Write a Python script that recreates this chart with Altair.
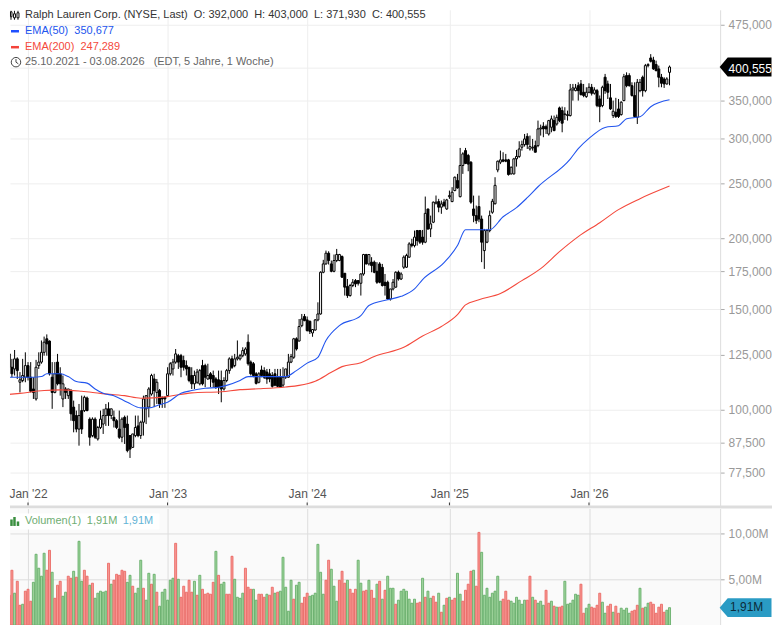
import altair as alt
import pandas as pd

# weekly candles: (open, high, low, close)
ohlc_a = [(127,130.9,117.1,122),(124.5,131.2,121.2,127.8),(126.1,130.5,117.1,123.6),(125.3,127.8,114,118.7),(118.7,122.8,114,115.6),
(117.9,127.3,114.8,122.8),(122.8,123.6,113.2,117.1),(111.7,116.4,107.2,112.8),(112.5,122.8,111.7,114.8),(114,126.1,111.7,119.5),
(119.5,121.2,112.5,114),(114,121.2,107.2,107.7),(108.7,114,104.4,107.2),(104.4,122.3,103.7,118.7),(119.5,126.1,117.9,121.2),
(121.2,132.3,120.4,126.1),(126.1,134.4,124.4,131.4),(133.2,135.6,124.4,130.5),(132,132.3,114.8,115.6),(114,121.2,100.3,107.2),
(107.2,121.2,106.8,115.6),(121.2,125.3,110.3,111),(115.6,118.7,105.8,111),(104.4,114.8,101,111),(108.7,109.5,104.4,107.2),
(105.8,108.7,104.4,108.7),(108,108.7,95.6,98.3),(101,103.7,91.2,95.6),(97.6,99.6,91.2,92.4),(92.4,102.3,86.4,97.6),
(99.6,105.8,90.6,92.4),(99.6,105.8,99,105.1),(104.8,105.4,99.3,99.6),(96.2,96.9,86.4,89.4),(90,96.9,89.4,96.2),
(96.2,96.9,88.8,89.4),(88.8,93.6,88.2,93),(93,99.6,92.4,96.2),(94.3,100.3,90.6,97.6),(97.6,102.3,93.6,100.3),
(100.3,103,93.6,97.6),(97.6,100.3,96.2,100.3),(96.9,99.6,93,95.6),(95.6,96.2,92.4,93),(92.4,99.6,88.8,89.4),
(89.4,96.9,87.6,96.2),(96.9,97.6,87,93),(94.3,97.6,84.1,84.7),(90,90,82.2,85.2),(85.8,90.6,85.6,90.6)]
ohlc_b = [(90,97.6,89.4,93),(93.6,97.6,89.4,90),(90,95.6,88.8,95),(95,105.8,90,104.4),(100.3,105.8,94.3,105.8),
(101,109.5,96.9,108.7),(106.5,115.6,105.8,114.8),(113.2,115.6,101,108),(107.2,113.2,102.3,111.7),(108,108.7,100.7,102.3),
(105.1,105.4,100.7,104.4),(105.1,105.4,100.7,104.4),(105.8,118.7,105.4,115.6),(115.6,121.2,114.8,120.4),(117.9,122.8,114.8,121.2),
(121.2,127.8,120.4,125.3),(124.4,125.3,117.9,121.2),(124.4,125.3,114,118.7),(122,124.4,117.1,118.7),(119.5,122,114.8,117.9),
(118.7,118.7,111.7,112.5),(114.8,118.7,108.7,111),(111,117.1,108.7,114.8),(111.7,117.9,111,116.4),(111,117.9,110.3,117.1),
(119.5,122.3,110.3,111),(119.5,120.4,109.5,114),(113.2,120.4,112.8,114.8),(115.6,116.4,109.5,113.2),(114.8,117.1,109.5,111.7),
(113.2,114,108.7,109.5),(112.8,117.1,106.5,109.5),(112.5,117.1,103,108.7),(108.7,114,108,112.5),(112.5,117.9,111.7,117.1),
(117.1,123.6,115.6,122.8),(122.8,124.4,117.9,118.7),(119.5,125.3,118.7,122.8),(122.8,132.3,122,123.6),(122.8,125.3,122,124.4),
(124.4,128.7,123.6,127),(125.3,128.7,124.4,127.8),(131.4,135.6,119.5,120.4),(121.2,122,114.8,115.6),(120.4,121.2,114,114.8),
(115.6,116.4,110.7,111.2),(111.7,116.4,111.2,115.6),(117.4,119.5,114,114.8),(117.1,118.7,113.2,114),(116.4,117.9,111,113.2)]
ohlc_c = [(115.6,117.9,111.7,113.2),(114.8,116.4,109.3,109.9),(115.6,117.9,109.9,110.4),(114,117.9,109.6,109.9),(114,117.9,109.3,109.6),
(110.4,118.7,109.6,114),(114,117.9,113.2,117.9),(114,125.3,113.7,121.2),(121.2,125.3,120.7,123.9),(123.6,133.7,122.8,133.2),
(133.2,134,127,127.8),(132,144.3,131.8,140),(140.5,147.3,139.6,144.3),(145.8,147.3,143,143.4),(143.8,145.8,137.2,137.7),
(143,143.4,135.8,137.3),(136.4,138.6,134.3,138.3),(138,144.3,137.7,143.8),(143.8,154.4,143,147.3),(147.3,175.1,146.9,174.4),
(174.4,183.4,173.7,180.4),(180.4,190.4,179.9,188.4),(188.4,189.9,180,182.9),(180.4,182.9,174.4,175.1),(175.1,187.4,174.4,182.9),
(182.9,191.7,181.7,187.4),(182.9,187.9,182.4,187.4),(185.9,186.7,170.4,171),(173.7,173.7,158.7,164.2),(164.6,169.7,157.2,158.7),
(158.7,166.4,158,165.3),(165.3,169.7,164.2,167.5),(168.6,169.7,164.2,166.4),(168.6,169,165.3,166.8),(166.8,173.7,158.7,173.2),
(173.2,187.9,172,187.4),(187.4,187.9,180,180.4),(180.4,187.4,179.2,187.4),(181.7,185.4,174.4,179.2),(181.7,182.9,173.7,174.4),
(175.1,181.7,166.4,167.5),(180.4,181.7,166.8,167.5),(177.9,180.4,164.6,165.3),(167.5,173.2,158.7,165.3),(167.5,168.6,156,156.5),
(156.5,163,155.5,163),(163,169.7,162,167.5),(164.2,175.1,163.8,174.4),(174.4,175.6,168.6,169.7),(169.7,174.4,169,173.2)]
ohlc_d = [(178,186.7,176.8,185.4),(178,188,177.5,186.7),(185.4,197,184.9,195.6),(195.6,199.7,192.9,194.3),(194.3,206.5,192.9,201.1),
(206.5,207,194.3,198.3),(206.5,207,195.6,197),(201.1,207,195,197),(197,237,196.2,221.4),(225.4,225.4,207,207.9),
(207.9,219.4,201.1,212.2),(213.6,232.2,212.8,231.7),(230.7,238,229.5,231.7),(232.2,234.8,222.4,227),(227,233.2,221,230),
(231.7,234.8,227,228.5),(225.4,234.8,224.5,233.8),(236.9,242.8,234.8,237.9),(232.2,246.2,231.7,241.2),(242.8,257,242.2,256.3),
(252.9,259.8,244.7,245.4),(236.9,288.6,236.2,268.8),(268.8,283.6,259.8,281.7),(285.5,288.6,270.3,271),(279.9,281.7,262.6,270.3),
(272.4,273.5,230.2,231.7),(225.4,237.9,213.6,219.4),(219.4,228.5,212.2,215),(227.6,237.9,213.6,216.4),(216.4,219.4,181.7,197),
(190.4,207.9,176.8,206.5),(197,207.9,196.2,206.5),(206.5,223.9,205.1,219.4),(222.4,234.8,221,232.5),(230.2,256.3,229.5,248),
(264,274.2,261.5,273.5),(272.4,285.5,270.3,275),(275,283.6,272.4,273.5),(275,281.7,272.4,273.5),(275,276.1,258,259.1),
(259.8,267.6,259.1,266.9),(259.8,277.2,259.1,276.1),(276.1,286.3,267.6,278.8),(278.8,296.5,277.2,287.4),(289.4,297.3,285.5,292.5),
(292.5,305.4,290.2,299.3),(302.4,306.3,287.4,292.5),(287.4,303.4,285.5,290.1),(288.6,299.3,285.5,289.4),(291.3,297.3,283.6,283.6)]
ohlc_e = [(291.3,322.4,289.4,311.7),(311.7,317.2,303.4,312.9),(315.1,320.3,301.4,311.7),(314.5,317.2,305.4,311.7),(305.4,323.3,303.4,322.4),
(313.8,329,307.5,324.6),(322.4,329,308.8,309.6),(318,330.3,315.9,326.7),(339.4,341.2,320.3,322.4),(335.7,341.2,307.5,319),
(330.3,340.3,323.3,331.2),(329,335.7,322.4,330.3),(329,374,327.8,365),(365,374,349.6,368),(364,374,363,368),
(371.4,376.5,349.6,364),(374,380,356.9,358.2),(361.6,374,354.4,356.9),(355.3,369,353.5,361.6),(361.6,375,360.1,369),
(369,374,356.9,360.1),(360.1,369,358.2,365),(364,366.5,340.3,342.6),(351.9,356.9,320.3,341.2),(342.6,371.4,340.3,369),
(384.3,389.5,359.3,364),(374,379,351.9,361.6),(353.5,374,336.6,338),(329,349.6,325.8,334.8),(333.5,353.5,325.8,327.8),
(338,351.9,325.8,327.8),(330.3,348.7,329,347.3),(349.6,389.5,348.7,385.1),(386.9,392,369,371.4),(386.9,390.5,370,371.4),
(371.4,376.5,355.3,356.9),(356.9,376.5,326.7,327.8),(326.7,381.6,318,376.5),(364,381.6,361.6,376.5),(384.3,386.9,355.3,364),
(364,405.6,361.6,402.8),(402.8,406.7,400,404.5),(415.5,422,408,410),(412,417.5,395.8,397.5),(404.5,411,393.6,394.7),
(397.5,402.8,369,384.3),(384.3,389.5,369,375),(381.6,384.3,368,374),(374,384.3,373,381.6),(392,403,371.93,400.555)]

# weekly volume in millions, with the colour of each bar
volumes = [8.26,3.91,3.7,3.26,5.98,3.48,4.78,2.17,2.28,3.7,
3.91,2.61,4.67,7.72,6.2,5.33,7.83,5.98,8.15,5.76,
2.93,4.35,4.78,3.15,3.59,5.33,5.11,5.87,5.22,9.13,
4.78,5.98,5.33,4.35,4.57,2.93,3.48,3.7,3.59,3.7,
6.74,4.46,4.89,5.54,5.43,5.98,5.87,4.67,5.43,4.24,
3.48,4.02,7.07,4.02,2.72,5.65,4.46,5.54,3.59,2.07,
3.59,3.91,2.72,4.89,5.11,8.91,5,3.04,4.24,3.59,
4.89,3.59,4.78,3.26,5.43,3.91,3.37,3.48,3.37,4.67,
8.04,5.43,4.46,4.67,3.37,3.37,7.5,5,3.04,2.93,
3.48,6.2,4.13,3.91,3.91,2.72,3.37,3.37,3.04,3.37,
3.26,4.13,3.48,3.59,3.7,7.39,4.13,1.52,4.89,2.83,
4.35,4.67,2.39,3.04,3.48,3.15,3.26,3.48,8.8,5.76,
3.37,4.89,7.07,6.09,4.24,2.61,4.89,5.87,4.57,4.89,
3.91,3.48,3.91,7.07,4.57,3.7,3.8,4.89,3.8,2.93,
4.46,4.78,2.83,3.8,5.33,4.02,4.02,2.28,2.72,3.7,
3.91,3.7,2.83,2.39,2.83,2.39,2.5,5.11,3.04,3.7,
2.93,3.15,2.5,3.48,1.41,2.17,2.93,3.04,2.72,2.93,
5.65,3.37,2.61,3.8,4.46,5.87,5.98,4.24,10.1,7.93,
3.26,4.02,3.04,3.48,3.7,5.33,2.61,2.83,3.7,2.72,
2.61,2.39,3.04,2.72,2.28,2.72,2.72,5.33,3.04,2.72,
2.39,2.61,2.17,3.8,2.39,2.61,2.07,1.96,1.96,2.07,
4.78,2.28,2.39,2.72,3.37,3.26,4.46,1.3,1.85,2.28,
1.96,1.85,2.17,3.48,2.5,1.3,2.07,2.28,1.41,2.07,
1.3,1.85,1.63,1.85,1.3,1.52,1.63,2.17,4.02,1.85,
1.96,2.39,2.5,2.28,1.3,1.96,2.28,1.41,1.63,1.91]
volume_colors = ("rrrrrgrrgr" "rrgggggrrg" "rrrggrrgrg" "grrgrggggg" "rgrrrrrggr"
                 "gggrggrgrg" "gggggrgrrr" "rrgrgrrrrr" "grggrrrggg" "grrrggrrrg"
                 "rrgrgggggr" "ggrrrggggg" "grrgggrrrg" "rrrggrrgrr" "grgrgggrgg"
                 "gggggrrgrg" "grrgrgrgrr" "ggrrrrgrrg" "gggggggrrr" "ggggggrrgr"
                 "gggrrgrgrr" "ggggggrrgg" "rrrrggrrgr" "rggggrrrgr" "ggrrrrrrgg")

# moving averages, read at the listed week numbers
ema50_weeks = [0,2,7,12,15,17,22,25,28,32,35,38,42,47,52,55,59,62,67,71,76,81,84,89,92,97,106,110,114,118,121,126,134,137,144,149,154,157,165,170,173,178,182,187,192,196,200,212,215,219,225,230,233,238,242,249]
ema50_values = [112.5,114,114,114,114.3,115.6,115.6,114.3,112,111.3,108.7,106.8,105.8,103,100.7,100.7,102,103,106.8,108,109,109.5,110.3,112.5,114.3,114.3,114.3,117.1,120.7,123.6,132.3,140.5,146.3,152.4,156,158.2,163,169.3,181.3,194.3,207.2,207.2,207.2,218.4,226.6,235.9,246.6,275.9,287.7,299.9,313.6,315.8,324.8,327.5,341,350.677]
ema200_weeks = [0,7,16,22,30,37,46,52,62,71,82,89,96,106,111,117,123,127,134,139,150,157,164,170,173,178,186,194,201,208,215,223,230,238,249]
ema200_values = [106,106.8,108,108.3,107.7,106.8,105.8,104.7,105.4,107,107.5,108.4,108.8,109.6,110.3,112.2,116.3,119,120.9,124,128.7,134.7,140,146.9,152.8,156,160,168.6,177,189.6,201.5,213.2,224.8,235,247.289]

price_ticks = [475, 400, 350, 300, 250, 200, 175, 150, 125, 100, 87.5, 77.5]
volume_ticks = [5, 10]
year_ticks = [alt.DateTime(year=2022, month=1, date=3), alt.DateTime(year=2023, month=1, date=2),
              alt.DateTime(year=2024, month=1, date=1), alt.DateTime(year=2025, month=1, date=6),
              alt.DateTime(year=2026, month=1, date=5)]
tick_dates = ["2022-01-03", "2023-01-02", "2024-01-01", "2025-01-06", "2026-01-05"]

FONT = "Liberation Sans"
W, H_MAIN, H_VOL = 712, 497, 117
RIGHT = 764  # the picture is shrunk if the chart is any wider than this

rows = ohlc_a + ohlc_b + ohlc_c + ohlc_d + ohlc_e
dates = [d.strftime("%Y-%m-%d") for d in pd.date_range("2021-10-25", periods=len(rows), freq="7D")]
candles = pd.DataFrame(rows, columns=["open", "high", "low", "close"])
candles["date"] = dates
candles["dir"] = ["up" if c >= o else "down" for o, c in zip(candles.open, candles.close)]
vol = pd.DataFrame({"date": dates[:len(volumes)], "v": volumes, "c": list(volume_colors)[:len(volumes)]})
e50 = pd.DataFrame({"date": [dates[i] for i in ema50_weeks], "v": ema50_values})
e200 = pd.DataFrame({"date": [dates[i] for i in ema200_weeks], "v": ema200_values})

xs = alt.Scale(domain=["2021-11-17", "2026-12-13"], nice=False, padding=0)
ys = alt.Scale(type="log", domain=[67.8, 505], nice=False, zero=False)
vs = alt.Scale(domain=[0, 12.7], nice=False, zero=True, padding=0)
X = alt.X("date:T", scale=xs, axis=None)
one = alt.Data(values=[{"a": 1}])


def text(s, x, y, color, panel_top=8, size=11, align="left"):
    return alt.Chart(one).mark_text(font=FONT, fontSize=size, color=color, align=align, baseline="middle").encode(
        x=alt.value(x - 8), y=alt.value(y - panel_top), text=alt.value(s))


def rule(x1, y1, x2, y2, color, width=1, panel_top=8):
    return alt.Chart(one).mark_rule(color=color, strokeWidth=width).encode(
        x=alt.value(x1 - 8), y=alt.value(y1 - panel_top), x2=alt.value(x2 - 8), y2=alt.value(y2 - panel_top))


def box(x1, y1, x2, y2, fill, stroke=None, panel_top=8):
    kw = {"stroke": stroke, "strokeWidth": 1} if stroke else {}
    return alt.Chart(one).mark_rect(fill=fill, **kw).encode(
        x=alt.value(x1 - 8), y=alt.value(y1 - panel_top), x2=alt.value(x2 - 8), y2=alt.value(y2 - panel_top))


price_axis = alt.Axis(orient="right", values=price_ticks, title=None, grid=True, gridColor="#eeeeee",
                      labelExpr="datum.value == 400 ? '' : replace(format(datum.value, '.3f'), '.', ',')",
                      labelColor="#999999", labelFont=FONT, labelFontSize=12, labelPadding=4,
                      tickColor="#aaaaaa", tickSize=4, domainColor="#dddddd")
time_axis = alt.Axis(values=year_ticks, title=None, format="%b '%y", grid=True, gridColor="#eeeeee", tickSize=0,
                     domain=False, labelPadding=-17, labelColor="#555555", labelFont=FONT, labelFontSize=12,
                     labelFlush=False, labelOverlap=False)

wicks = alt.Chart(candles).mark_rule(color="#000000", strokeWidth=1, clip=True).encode(
    x=alt.X("date:T", scale=xs, axis=time_axis),
    y=alt.Y("low:Q", scale=ys, axis=price_axis), y2="high:Q")
bodies = alt.Chart(candles).mark_bar(size=2, stroke="#000000", strokeWidth=1, clip=True).encode(
    x=X, y=alt.Y("open:Q", scale=ys, axis=None), y2="close:Q",
    fill=alt.Fill("dir:N", scale=alt.Scale(domain=["up", "down"], range=["#ffffff", "#000000"]), legend=None))
line50 = alt.Chart(e50).mark_line(color="#2255ee", strokeWidth=1.1, clip=True, interpolate="monotone").encode(
    x=X, y=alt.Y("v:Q", scale=ys, axis=None))
line200 = alt.Chart(e200).mark_line(color="#f4493c", strokeWidth=1.1, clip=True, interpolate="monotone").encode(
    x=X, y=alt.Y("v:Q", scale=ys, axis=None))
year_marks = alt.Chart(pd.DataFrame({"date": tick_dates})).mark_rule(color="#333333", strokeWidth=1).encode(
    x=X, y=alt.value(H_MAIN - 3), y2=alt.value(H_MAIN))
band = alt.Chart(one).mark_rect(fill="#dddddd").encode(
    x=alt.value(0), x2=alt.value(RIGHT), y=alt.value(H_MAIN), y2=alt.value(H_MAIN + 3))
pill_shape = "M-1,0 L-0.69,-0.365 L1,-0.365 L1,0.365 L-0.69,0.365 Z"
price_pill = alt.Chart(candles.tail(1)).mark_point(shape=pill_shape, filled=True, size=2704, color="#000000", opacity=1).encode(
    x=alt.value(737.5), y=alt.Y("close:Q", scale=ys, axis=None))
price_pill_text = text("400,555", 728.5, 67, "#ffffff", size=12)

clock = alt.Chart(one).mark_point(shape="circle", size=90, color="#444444", strokeWidth=1, opacity=1).encode(
    x=alt.value(6), y=alt.value(52.5))
clock_hands = alt.Chart(one).mark_point(shape="M0,-0.65 L0,0 L0.5,0.35", size=90, color="#444444", strokeWidth=1, opacity=1, fill=None).encode(
    x=alt.value(6), y=alt.value(52.5))

main = alt.layer(
    wicks, bodies, line200, line50, year_marks, band, price_pill, price_pill_text,
    rule(9, 9, 9, 18, "#111111"), rule(12.5, 9, 12.5, 18, "#111111"), rule(16, 9, 16, 18, "#111111"),
    box(8.5, 10, 10, 15, "#ffffff", "#111111"), box(11.5, 12, 13.5, 16, "#ffffff", "#111111"), box(15, 11, 17, 16, "#ffffff", "#111111"),
    text("Ralph Lauren Corp. (NYSE, Last)\u00a0\u00a0O: 392,000\u00a0\u00a0H: 403,000\u00a0\u00a0L: 371,930\u00a0\u00a0C: 400,555", 23, 13.5, "#333333"),
    rule(9, 29.5, 17, 29.5, "#1f4fff", 2.5), text("EMA(50)\u00a0\u00a0350,677", 23, 29, "#2255ee"),
    rule(9, 45.5, 17, 45.5, "#f4433a", 2.5), text("EMA(200)\u00a0\u00a0247,289", 23, 45, "#f4493c"),
    clock, clock_hands, text("25.10.2021 - 03.08.2026\u00a0\u00a0\u00a0(EDT, 5 Jahre, 1 Woche)", 23, 60.5, "#666666"),
).resolve_axis(x="independent", y="independent").properties(width=W, height=H_MAIN)

vtop = 508
vol_axis = alt.Axis(orient="right", values=volume_ticks, title=None, grid=True, gridColor="#dddddd",
                    labelExpr="replace(format(datum.value, '.2f'), '.', ',') + 'M'",
                    labelColor="#999999", labelFont=FONT, labelFontSize=12, labelPadding=4,
                    tickColor="#aaaaaa", tickSize=4, domainColor="#dddddd")
vol_time = alt.Axis(values=year_ticks, title=None, grid=True, gridColor="#dddddd", labels=False, ticks=False, domain=False)
vbars = alt.Chart(vol).mark_bar(size=2, strokeWidth=0.8, clip=True).encode(
    x=alt.X("date:T", scale=xs, axis=vol_time),
    y=alt.Y("v:Q", scale=vs, axis=vol_axis),
    fill=alt.Fill("c:N", scale=alt.Scale(domain=["r", "g"], range=["#f89a96", "#a3d6a0"]), legend=None),
    stroke=alt.Stroke("c:N", scale=alt.Scale(domain=["r", "g"], range=["#e8605a", "#5ca85f"]), legend=None))
vol_pill = alt.Chart(vol.tail(1)).mark_point(shape=pill_shape, filled=True, size=2704, color="#2a9bc4", opacity=1).encode(
    x=alt.value(737.5), y=alt.Y("v:Q", scale=vs, axis=None))

volume = alt.layer(
    vbars, vol_pill, text("1,91M", 730, 607, "#0d2c3a", vtop, 12),
    box(8, 513, 158, 529, "#ffffff", None, vtop),
    rule(9.5, 519, 9.5, 525.5, "#3a8f3f", 2.5, vtop), rule(12.5, 516.5, 12.5, 525.5, "#3a8f3f", 2.5, vtop), rule(16, 521, 16, 525.5, "#3a8f3f", 2.5, vtop),
    text("Volumen(1)", 23, 521, "#6fae72", vtop), text("1,91M", 85, 521, "#6fae72", vtop), text("1,91M", 121, 521, "#62b4d6", vtop),
).resolve_axis(x="independent", y="independent").properties(width=W, height=H_VOL, view=alt.ViewConfig(fill="#fafafa", stroke=None))

chart = alt.vconcat(main, volume, spacing=3, bounds="flush").resolve_scale(fill="independent", stroke="independent").properties(
    padding=0, background="#ffffff"
).configure_view(stroke=None)

chart.save("out.html", embed_options={"renderer": "svg", "actions": False})
